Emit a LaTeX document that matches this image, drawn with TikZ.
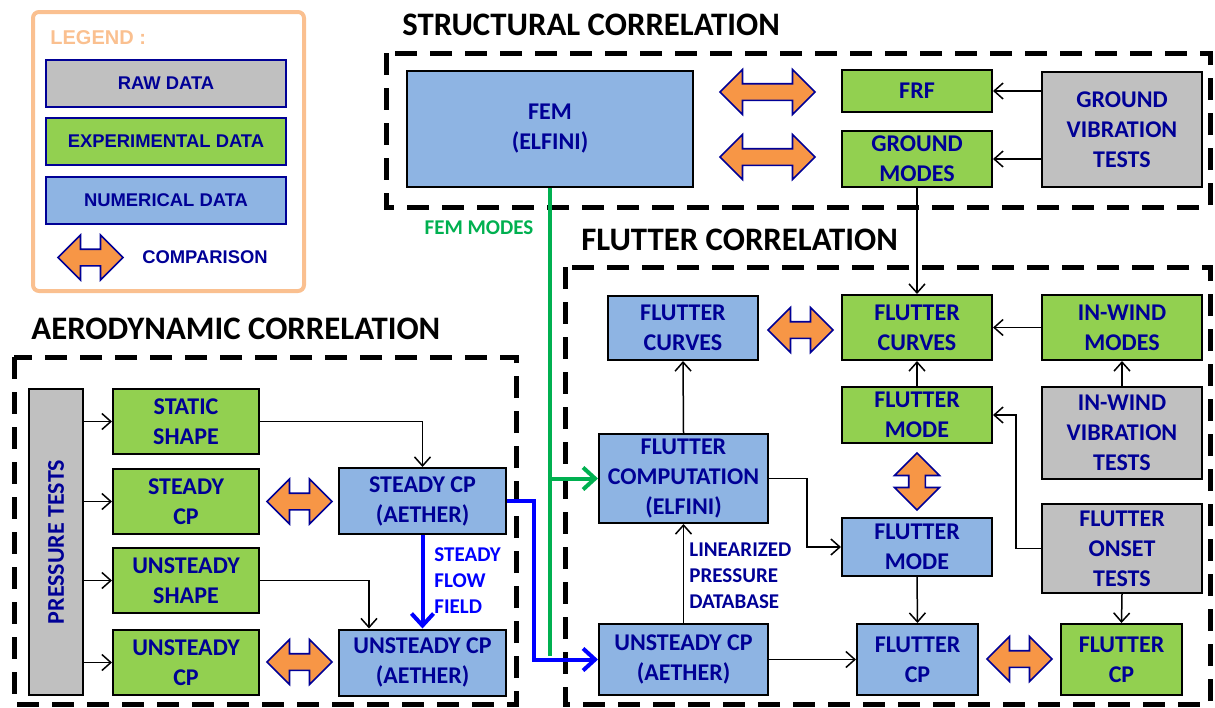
\documentclass[tikz,border=0pt]{standalone}
\usepackage{fontspec}
\setmainfont{Carlito}
\newfontfamily\legfont{Liberation Sans}
\usetikzlibrary{arrows.meta,shapes.arrows,positioning}
\definecolor{navy}{RGB}{0,0,150}
\definecolor{rawgray}{RGB}{192,192,192}
\definecolor{expgreen}{RGB}{146,208,80}
\definecolor{numblue}{RGB}{142,180,227}
\definecolor{cmporange}{RGB}{247,150,70}
\definecolor{legorange}{RGB}{250,192,144}
\definecolor{femgreen}{RGB}{0,176,80}
\definecolor{flowblue}{RGB}{0,0,255}
\tikzset{
  box/.style={draw=black,line width=1pt,text=navy,align=center,inner sep=1pt,
    font=\bfseries\fontsize{12}{15}\selectfont},
  rawbox/.style={box,fill=rawgray},
  expbox/.style={box,fill=expgreen},
  numbox/.style={box,fill=numblue},
  legbox/.style={draw=navy,line width=1pt,text=navy,minimum width=120pt,minimum height=23.5pt,
    font=\legfont\bfseries\fontsize{9.2}{11}\selectfont},
  cmp/.style={double arrow,draw=navy,fill=cmporange,line width=0.8pt,inner sep=3.75pt,
    minimum width=20.5pt,minimum height=#1},
  cmp/.default=32.5pt,
  conn/.style={-{Straight Barb[length=4.5pt,width=8pt]},line width=0.75pt},
  femline/.style={femgreen,line width=2pt},
  femarr/.style={femline,-{Straight Barb[length=6pt,width=11pt]}},
  flowarr/.style={flowblue,line width=2pt,-{Straight Barb[length=6pt,width=11pt]}},
  frame/.style={line width=2.5pt,dash pattern=on 11pt off 6.5pt},
  ttl/.style={anchor=west,inner sep=0pt,font=\bfseries\fontsize{16.4}{19}\selectfont},
  note/.style={anchor=west,align=left,inner sep=0pt,font=\bfseries\fontsize{10.5}{13}\selectfont},
}

\begin{document}
\begin{tikzpicture}[x=0.5pt,y=-0.5pt]
  \useasboundingbox (0,0) rectangle (1215,707);
  % legend
  \draw[legorange,line width=2pt,rounded corners=3pt] (33,12) rectangle (304,291);
  \node[anchor=west,inner sep=0pt,text=legorange,font=\legfont\bfseries\fontsize{10}{12}\selectfont]
    (legttl) at (50,38) {LEGEND :};
  \node[legbox,fill=rawgray] (legraw) at (166,83.5) {RAW DATA};
  \node[legbox,fill=expgreen] (legexp) at (166,141.5) {EXPERIMENTAL DATA};
  \node[legbox,fill=numblue] (legnum) at (166,200.5) {NUMERICAL DATA};
  \node[cmp] (legcmp) at (90.5,257.5) {};
  \node[text=navy,font=\legfont\bfseries\fontsize{9.2}{11}\selectfont] (legcmptxt) at (205,257) {COMPARISON};

  % frames and titles
  \draw[frame] (386,53) rectangle (1210,207);
  \draw[frame] (14,357) rectangle (516,704);
  \draw[frame] (565,267) rectangle (1210,704);
  \node[ttl] (sttl) at (402,25) {STRUCTURAL CORRELATION};
  \node[ttl] (fttl) at (581,240) {FLUTTER CORRELATION};
  \node[ttl] (attl) at (31,329) {AERODYNAMIC CORRELATION};

  % structural correlation
  \node[numbox,minimum width=143pt,minimum height=58pt] (fem) at (550,129) {FEM\\(ELFINI)};
  \node[cmp=47.5pt] (cmpfrf) at (767.5,92) {};
  \node[cmp=47.5pt] (cmpgm) at (767.5,157) {};
  \node[expbox,minimum width=75pt,minimum height=21pt] (frf) at (917,91) {FRF};
  \node[expbox,minimum width=75pt,minimum height=28pt] (gm) at (917,159) {GROUND\\MODES};
  \node[rawbox,minimum width=80pt,minimum height=57.5pt] (gvt) at (1122,129.5) {GROUND\\VIBRATION\\TESTS};

  % aerodynamic correlation
  \node[rawbox,rotate=90,minimum width=153pt,minimum height=27pt] (pt) at (56,542) {PRESSURE TESTS};
  \node[expbox,minimum width=73pt,minimum height=32.5pt] (ss) at (186,421.5) {STATIC\\SHAPE};
  \node[expbox,minimum width=73pt,minimum height=32.5pt] (scp) at (186,501.5) {STEADY\\CP};
  \node[expbox,minimum width=73pt,minimum height=32.5pt] (us) at (186,580.5) {UNSTEADY\\SHAPE};
  \node[expbox,minimum width=73pt,minimum height=32.5pt] (ucp) at (186,662.5) {UNSTEADY\\CP};
  \node[numbox,minimum width=83.5pt,minimum height=33pt] (scpa) at (422.5,501) {STEADY CP\\(AETHER)};
  \node[numbox,minimum width=83.5pt,minimum height=33pt] (ucpa) at (422.5,662.5) {UNSTEADY CP\\(AETHER)};
  \node[cmp] (cmpscp) at (299.5,501.5) {};
  \node[cmp] (cmpucp) at (299.5,662) {};

  % flutter correlation
  \node[numbox,minimum width=75pt,minimum height=32pt] (fcb) at (683,328) {FLUTTER\\CURVES};
  \node[cmp] (cmpfc) at (800.5,330) {};
  \node[expbox,minimum width=75pt,minimum height=32.5pt] (fcg) at (917,327.5) {FLUTTER\\CURVES};
  \node[expbox,minimum width=80pt,minimum height=32.5pt] (iwm) at (1122,327.5) {IN-WIND\\MODES};
  \node[expbox,minimum width=75pt,minimum height=28pt] (fmg) at (917,415) {FLUTTER\\MODE};
  \node[rawbox,minimum width=80pt,minimum height=46pt] (iwvt) at (1122,433) {IN-WIND\\VIBRATION\\TESTS};
  \node[cmp=28.5pt,rotate=90,minimum width=20pt] (cmpfm) at (917,481.5) {};
  \node[numbox,minimum width=75pt,minimum height=29pt] (fmb) at (917,547) {FLUTTER\\MODE};
  \node[rawbox,minimum width=80pt,minimum height=44.5pt] (fot) at (1122,548.5) {FLUTTER\\ONSET\\TESTS};
  \node[numbox,minimum width=60.5pt,minimum height=35.5pt] (fcpb) at (917.5,659.5) {FLUTTER\\CP};
  \node[cmp] (cmpfcp) at (1019.5,659) {};
  \node[expbox,minimum width=60.5pt,minimum height=35.5pt] (fcpg) at (1121.5,659.5) {FLUTTER\\CP};
  \node[numbox,minimum width=84.5pt,minimum height=44.5pt] (fc) at (683.5,478.5) {FLUTTER\\COMPUTATION\\(ELFINI)};
  \node[numbox,minimum width=84.5pt,minimum height=35.5pt] (ucpf) at (683.5,659.5) {UNSTEADY CP\\(AETHER)};

  % connectors
  \draw[conn] (gvt.west |- frf.east) -- (frf.east);
  \draw[conn] (gvt.west |- gm.east) -- (gm.east);
  \draw[conn] (gm.south) -- (fcg.north);
  \foreach \b in {ss,scp,us,ucp}
    \draw[conn] (pt.south |- \b.west) -- (\b.west);
  \draw[conn] (ss.east) -| (scpa.north);
  \draw[conn] (us.east) -| ([xshift=-26.75pt]ucpa.north);
  \draw[conn] (iwm.west) -- (fcg.east);
  \draw[conn] (iwvt.north) -- (iwm.south);
  \draw[conn] (fmg.north) -- (fcg.south);
  \draw[conn] (fot.west) -- ++(-25,0) |- (fmg.east);
  \draw[conn] (fot.south) -- (fcpg.north);
  \draw[conn] (fmb.south) -- (fcpb.north);
  \draw[conn] (ucpf.east) -- (fcpb.west);
  \draw[conn] (fc.east) -- ++(38,0) |- (fmb.west);
  \draw[conn] (fc.north) -- (fcb.south);
  \draw[conn] (ucpf.north) -- (fc.south);
  \node[note,text=navy] (lpd) at (689,576) {LINEARIZED\\PRESSURE\\DATABASE};

  % FEM modes and steady flow
  \draw[femline] (fem.south) -- ++(0,468);
  \coordinate (femtap) at (550,478.5);
  \draw[femarr] (femtap) -- (fc.west);
  \node[text=femgreen,inner sep=0pt,font=\bfseries\fontsize{10.5}{13}\selectfont] (femlbl) at (479,228) {FEM MODES};
  \draw[flowarr] (scpa.south) -- (ucpa.north);
  \node[note,text=flowblue] (sff) at (434,581) {STEADY\\FLOW\\FIELD};
  \draw[flowarr] (scpa.east) -- ++(27,0) |- (ucpf.west);
\end{tikzpicture}
\end{document}
